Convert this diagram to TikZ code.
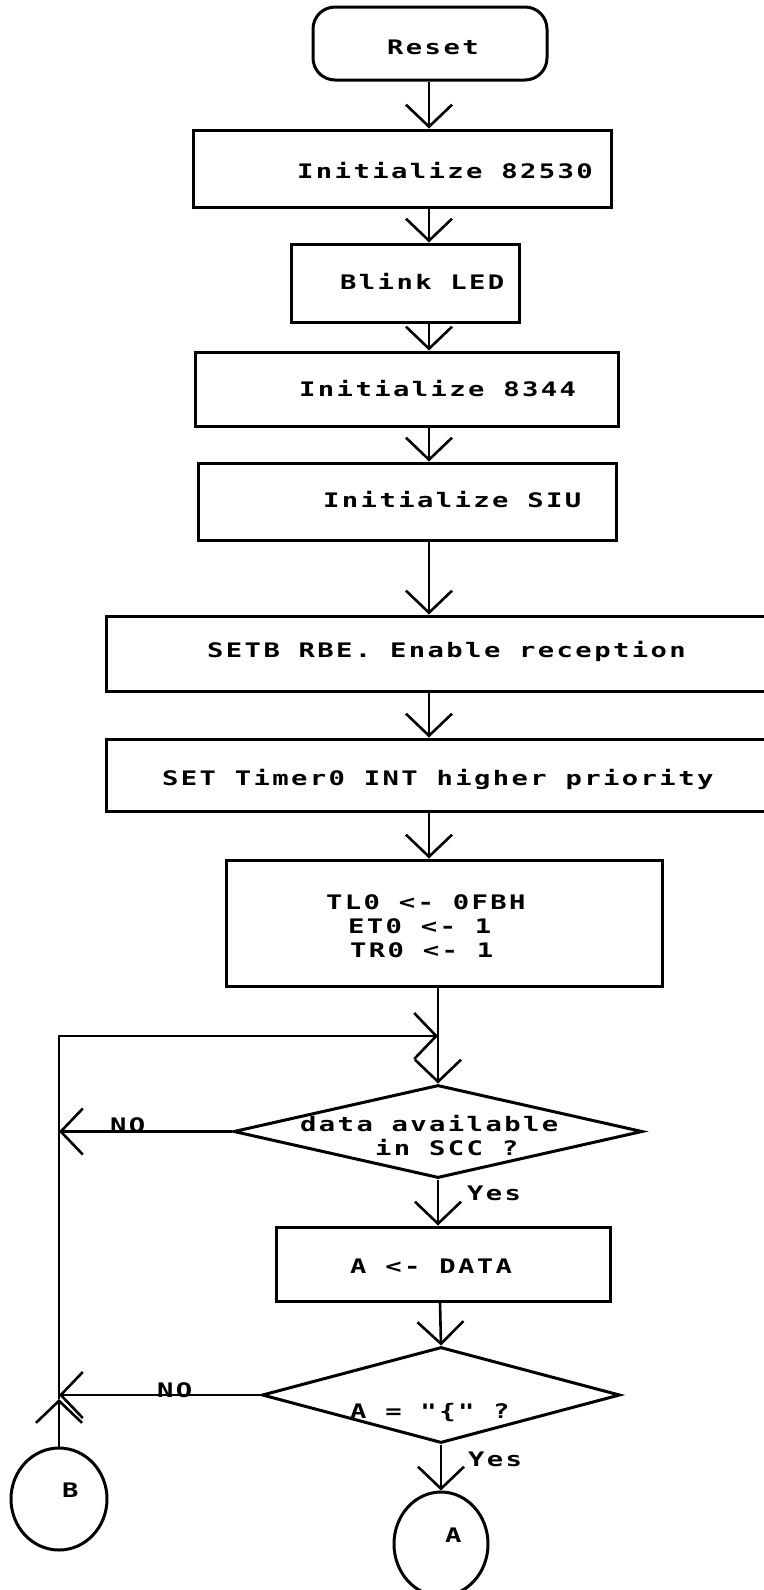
\documentclass[tikz,border=0pt]{standalone}
\usepackage{fontspec}
\newfontfamily\plotfont{DejaVu Sans Mono}[FakeStretch=1.36,LetterSpace=12]
\usetikzlibrary{arrows.meta,shapes.geometric}
\tikzset{
  box/.style={draw, line width=3pt, inner sep=0pt, rectangle},
  startbox/.style={box, rounded corners=22pt},
  dia/.style={draw, line width=3pt, diamond, inner sep=0pt},
  conn/.style={draw, line width=3pt, ellipse, inner sep=0pt},
  txt/.style={inner sep=0pt, anchor=base west, font={\plotfont\bfseries\fontsize{20}{24}\selectfont}},
  flow/.style={line width=2.6pt, -{Straight Barb[length=22pt,width=46pt,line width=2.6pt]}},
}
\begin{document}
\begin{tikzpicture}[x=1pt,y=-1pt]
\useasboundingbox (0,0) rectangle (763,1590);
% spine coordinates
\coordinate (s1) at (429,0);
\coordinate (s2) at (438,0);
\coordinate (s3) at (440,0);
% boxes
\node[startbox, minimum width=234pt, minimum height=73pt] (reset) at (430,43.5) {};
\node[box, minimum width=418pt, minimum height=77pt] (b1) at (402,168.5) {};
\node[box, minimum width=228pt, minimum height=78pt] (b2) at (405,283) {};
\node[box, minimum width=423pt, minimum height=74pt] (b3) at (406.5,389) {};
\node[box, minimum width=418pt, minimum height=77pt] (b4) at (407,501.5) {};
\node[box, minimum width=666pt, minimum height=75pt] (b5) at (439,653.5) {};
\node[box, minimum width=666pt, minimum height=72pt] (b6) at (439,775) {};
\node[box, minimum width=436pt, minimum height=126pt] (b7) at (444,923) {};
\node[dia, minimum width=409pt, minimum height=93pt] (d1) at (438,1131.5) {};
\node[box, minimum width=334pt, minimum height=74pt] (b8) at (443,1264) {};
\node[dia, minimum width=358pt, minimum height=96pt] (d2) at (441,1395) {};
\node[conn, minimum width=96pt, minimum height=102pt] (cB) at (59,1499) {};
\node[conn, minimum width=94pt, minimum height=104pt] (cA) at (441,1544) {};
% texts
\node[txt] (t0) at (387,54) {Reset};
\node[txt] (t1) at (297,178) {Initialize 82530};
\node[txt] (t2) at (340,289) {Blink LED};
\node[txt] (t3) at (299,396) {Initialize 8344};
\node[txt] (t4) at (323,507) {Initialize SIU};
\node[txt] (t5) at (207,657) {SETB RBE. Enable reception};
\node[txt] (t6) at (162,785) {SET Timer0 INT higher priority};
\node[txt] (t7a) at (326,909) {TL0 <- 0FBH};
\node[txt] (t7b) at (348,933) {ET0 <- 1};
\node[txt] (t7c) at (350,957) {TR0 <- 1};
\node[txt] (t8a) at (300,1131) {data available};
\node[txt] (t8b) at (375,1155) {in SCC ?};
\node[txt] (t9) at (350,1273) {A <- DATA};
\node[txt] (t10) at (350,1418) {A = "\{" ?};
\node[txt] (no1) at (110,1132) {NO};
\node[txt] (no2) at (157,1397) {NO};
\node[txt] (yes1) at (467,1200) {Yes};
\node[txt] (yes2) at (468,1466) {Yes};
\node[txt] (tB) at (62,1497) {B};
\node[txt] (tA) at (445,1542) {A};
% junctions of the loop
\coordinate (j0) at (438,1036);
\coordinate (cnr) at (59,1036);
\coordinate (j2) at (59,1399);
% connectors
\draw[flow] (reset.south -| s1) -- (b1.north -| s1);
\draw[flow] (b1.south -| s1) -- (b2.north -| s1);
\draw[flow] (b2.south -| s1) -- (b3.north -| s1);
\draw[flow] (b3.south -| s1) -- (b4.north -| s1);
\draw[flow] (b4.south -| s1) -- (b5.north -| s1);
\draw[flow] (b5.south -| s1) -- (b6.north -| s1);
\draw[flow] (b6.south -| s1) -- (b7.north -| s1);
\draw[flow] (b7.south -| s2) -- (d1.north);
\draw[flow] (d1.south) -- (b8.north -| d1.south);
\draw[flow] (b8.south -| s3) -- (d2.north);
\draw[flow] (d2.south) -- (cA.north);
\draw[flow] (d1.west) -- (d1.west -| cnr);
\draw[flow] (d2.west) -- (d2.west -| j2);
\draw[flow] (cB.north) -- (j2);
\draw[flow] (j2) -- (cnr) -- (j0);
\end{tikzpicture}
\end{document}
